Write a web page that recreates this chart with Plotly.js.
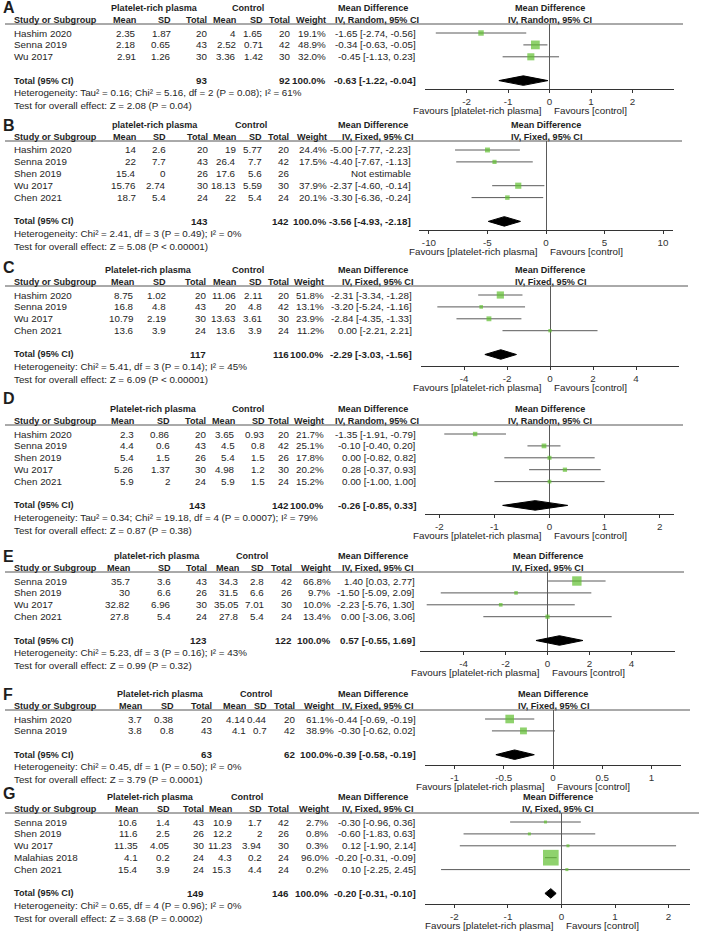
<!DOCTYPE html>
<html>
<head>
<meta charset="utf-8">
<script src="https://cdn.plot.ly/plotly-3.0.1.min.js"></script>
<style>html,body{margin:0;padding:0;background:#fff}</style>
</head>
<body>
<div id="chart" style="width:701px;height:939px"></div>
<script>
// ---- A ----
const studiesA = ["Hashim 2020", "Senna 2019", "Wu 2017"];
const prpMeanA = [2.35, 2.18, 2.91];
const prpSdA = [1.87, 0.65, 1.26];
const prpNA = [20, 43, 30];
const ctlMeanA = [4, 2.52, 3.36];
const ctlSdA = [1.65, 0.71, 1.42];
const ctlNA = [20, 42, 30];
const weightA = [19.1, 48.9, 32.0];
const mdA = [-1.65, -0.34, -0.45];
const loA = [-2.74, -0.63, -1.13];
const hiA = [-0.56, -0.05, 0.23];
const totalNA = [93, 92];
const totalCiA = [-0.63, -1.22, -0.04];
const ticksA = [-2, -1, 0, 1, 2];

// ---- B ----
const studiesB = ["Hashim 2020", "Senna 2019", "Shen 2019", "Wu 2017", "Chen 2021"];
const prpMeanB = [14, 22, 15.4, 15.76, 18.7];
const prpSdB = [2.6, 7.7, 0, 2.74, 5.4];
const prpNB = [20, 43, 26, 30, 24];
const ctlMeanB = [19, 26.4, 17.6, 18.13, 22];
const ctlSdB = [5.77, 7.7, 5.6, 5.59, 5.4];
const ctlNB = [20, 42, 26, 30, 24];
const weightB = [24.4, 17.5, null, 37.9, 20.1];
const mdB = [-5.00, -4.40, null, -2.37, -3.30];
const loB = [-7.77, -7.67, null, -4.60, -6.36];
const hiB = [-2.23, -1.13, null, -0.14, -0.24];
const totalNB = [143, 142];
const totalCiB = [-3.56, -4.93, -2.18];
const ticksB = [-10, -5, 0, 5, 10];

// ---- C ----
const studiesC = ["Hashim 2020", "Senna 2019", "Wu 2017", "Chen 2021"];
const prpMeanC = [8.75, 16.8, 10.79, 13.6];
const prpSdC = [1.02, 4.8, 2.19, 3.9];
const prpNC = [20, 43, 30, 24];
const ctlMeanC = [11.06, 20, 13.63, 13.6];
const ctlSdC = [2.11, 4.8, 3.61, 3.9];
const ctlNC = [20, 42, 30, 24];
const weightC = [51.8, 13.1, 23.9, 11.2];
const mdC = [-2.31, -3.20, -2.84, 0.00];
const loC = [-3.34, -5.24, -4.35, -2.21];
const hiC = [-1.28, -1.16, -1.33, 2.21];
const totalNC = [117, 116];
const totalCiC = [-2.29, -3.03, -1.56];
const ticksC = [-4, -2, 0, 2, 4];

// ---- D ----
const studiesD = ["Hashim 2020", "Senna 2019", "Shen 2019", "Wu 2017", "Chen 2021"];
const prpMeanD = [2.3, 4.4, 5.4, 5.26, 5.9];
const prpSdD = [0.86, 0.6, 1.5, 1.37, 2];
const prpND = [20, 43, 26, 30, 24];
const ctlMeanD = [3.65, 4.5, 5.4, 4.98, 5.9];
const ctlSdD = [0.93, 0.8, 1.5, 1.2, 1.5];
const ctlND = [20, 42, 26, 30, 24];
const weightD = [21.7, 25.1, 17.8, 20.2, 15.2];
const mdD = [-1.35, -0.10, 0.00, 0.28, 0.00];
const loD = [-1.91, -0.40, -0.82, -0.37, -1.00];
const hiD = [-0.79, 0.20, 0.82, 0.93, 1.00];
const totalND = [143, 142];
const totalCiD = [-0.26, -0.85, 0.33];
const ticksD = [-2, -1, 0, 1, 2];

// ---- E ----
const studiesE = ["Senna 2019", "Shen 2019", "Wu 2017", "Chen 2021"];
const prpMeanE = [35.7, 30, 32.82, 27.8];
const prpSdE = [3.6, 6.6, 6.96, 5.4];
const prpNE = [43, 26, 30, 24];
const ctlMeanE = [34.3, 31.5, 35.05, 27.8];
const ctlSdE = [2.8, 6.6, 7.01, 5.4];
const ctlNE = [42, 26, 30, 24];
const weightE = [66.8, 9.7, 10.0, 13.4];
const mdE = [1.40, -1.50, -2.23, 0.00];
const loE = [0.03, -5.09, -5.76, -3.06];
const hiE = [2.77, 2.09, 1.30, 3.06];
const totalNE = [123, 122];
const totalCiE = [0.57, -0.55, 1.69];
const ticksE = [-4, -2, 0, 2, 4];

// ---- F ----
const studiesF = ["Hashim 2020", "Senna 2019"];
const prpMeanF = [3.7, 3.8];
const prpSdF = [0.38, 0.8];
const prpNF = [20, 43];
const ctlMeanF = [4.14, 4.1];
const ctlSdF = [0.44, 0.7];
const ctlNF = [20, 42];
const weightF = [61.1, 38.9];
const mdF = [-0.44, -0.30];
const loF = [-0.69, -0.62];
const hiF = [-0.19, 0.02];
const totalNF = [63, 62];
const totalCiF = [-0.39, -0.58, -0.19];
const ticksF = [-1, -0.5, 0, 0.5, 1];

// ---- G ----
const studiesG = ["Senna 2019", "Shen 2019", "Wu 2017", "Malahias 2018", "Chen 2021"];
const prpMeanG = [10.6, 11.6, 11.35, 4.1, 15.4];
const prpSdG = [1.4, 2.5, 4.05, 0.2, 3.9];
const prpNG = [43, 26, 30, 24, 24];
const ctlMeanG = [10.9, 12.2, 11.23, 4.3, 15.3];
const ctlSdG = [1.7, 2, 3.94, 0.2, 4.4];
const ctlNG = [42, 26, 30, 24, 24];
const weightG = [2.7, 0.8, 0.3, 96.0, 0.2];
const mdG = [-0.30, -0.60, 0.12, -0.20, 0.10];
const loG = [-0.96, -1.83, -1.90, -0.31, -2.25];
const hiG = [0.36, 0.63, 2.14, -0.09, 2.45];
const totalNG = [149, 146];
const totalCiG = [-0.20, -0.31, -0.10];
const ticksG = [-2, -1, 0, 1, 2];

const panelLetters = ["A", "B", "C", "D", "E", "F", "G"];
const groupLabels = ["Platelet-rich plasma", "platelet-rich plasma", "Platelet-rich plasma",
  "Platelet-rich plasma", "platelet-rich plasma", "Platelet-rich plasma", "Platelet-rich plasma"];
const methods = ["IV, Random, 95% CI", "IV, Fixed, 95% CI", "IV, Fixed, 95% CI",
  "IV, Random, 95% CI", "IV, Fixed, 95% CI", "IV, Fixed, 95% CI", "IV, Fixed, 95% CI"];
const hetTexts = [
  "Heterogeneity: Tau² = 0.16; Chi² = 5.16, df = 2 (P = 0.08); I² = 61%",
  "Heterogeneity: Chi² = 2.41, df = 3 (P = 0.49); I² = 0%",
  "Heterogeneity: Chi² = 5.41, df = 3 (P = 0.14); I² = 45%",
  "Heterogeneity: Tau² = 0.34; Chi² = 19.18, df = 4 (P = 0.0007); I² = 79%",
  "Heterogeneity: Chi² = 5.23, df = 3 (P = 0.16); I² = 43%",
  "Heterogeneity: Chi² = 0.45, df = 1 (P = 0.50); I² = 0%",
  "Heterogeneity: Chi² = 0.65, df = 4 (P = 0.96); I² = 0%",
];
const testTexts = [
  "Test for overall effect: Z = 2.08 (P = 0.04)",
  "Test for overall effect: Z = 5.08 (P < 0.00001)",
  "Test for overall effect: Z = 6.09 (P < 0.00001)",
  "Test for overall effect: Z = 0.87 (P = 0.38)",
  "Test for overall effect: Z = 0.99 (P = 0.32)",
  "Test for overall effect: Z = 3.79 (P = 0.0001)",
  "Test for overall effect: Z = 3.68 (P = 0.0002)",
];

const panels = [
  [studiesA, prpMeanA, prpSdA, prpNA, ctlMeanA, ctlSdA, ctlNA, weightA, mdA, loA, hiA, totalNA, totalCiA, ticksA],
  [studiesB, prpMeanB, prpSdB, prpNB, ctlMeanB, ctlSdB, ctlNB, weightB, mdB, loB, hiB, totalNB, totalCiB, ticksB],
  [studiesC, prpMeanC, prpSdC, prpNC, ctlMeanC, ctlSdC, ctlNC, weightC, mdC, loC, hiC, totalNC, totalCiC, ticksC],
  [studiesD, prpMeanD, prpSdD, prpND, ctlMeanD, ctlSdD, ctlND, weightD, mdD, loD, hiD, totalND, totalCiD, ticksD],
  [studiesE, prpMeanE, prpSdE, prpNE, ctlMeanE, ctlSdE, ctlNE, weightE, mdE, loE, hiE, totalNE, totalCiE, ticksE],
  [studiesF, prpMeanF, prpSdF, prpNF, ctlMeanF, ctlSdF, ctlNF, weightF, mdF, loF, hiF, totalNF, totalCiF, ticksF],
  [studiesG, prpMeanG, prpSdG, prpNG, ctlMeanG, ctlSdG, ctlNG, weightG, mdG, loG, hiG, totalNG, totalCiG, ticksG],
].map(([studies, prpMean, prpSd, prpN, ctlMean, ctlSd, ctlN, weight, md, lo, hi, totalN, totalCi, ticks]) =>
  ({ studies, prpMean, prpSd, prpN, ctlMean, ctlSd, ctlN, weight, md, lo, hi, totalN, totalCi, ticks }));

// page geometry (px) for each panel
const geom = [
  { letterY: 7, y0: 8, axisY: 89, x: [425, 674], range: [-3, 3], box: 1.25,
    cols: [137, 172, 208, 237, 264, 291, 327], groupX: 154, ctlX: 248, ciX: 417 },
  { letterY: 125, y0: 125, axisY: 230, x: [419, 673], range: [-10.85, 10.85], box: 1.0,
    cols: [137, 167, 209, 237, 263, 290, 328], groupX: 155, ctlX: 251, ciX: 412 },
  { letterY: 267, y0: 270, axisY: 366, x: [421, 679], range: [-6, 6], box: 1.0,
    cols: [135, 167, 207, 237, 263, 290, 325], groupX: 148, ctlX: 248, ciX: 413 },
  { letterY: 398, y0: 409, axisY: 514, x: [425, 674], range: [-2.26, 2.26], box: 0.95,
    cols: [135, 171, 207, 236, 266, 290, 325], groupX: 153, ctlX: 248, ciX: 417 },
  { letterY: 556, y0: 556, axisY: 651, x: [420, 675], range: [-6.08, 6.08], box: 1.15,
    cols: [131, 172, 208, 240, 265, 293, 332], groupX: 157, ctlX: 252, ciX: 416 },
  { letterY: 694, y0: 694, axisY: 765, x: [425, 681], range: [-1.3, 1.3], box: 1.1,
    cols: [143, 175, 213, 247, 268, 296, 335], groupX: 160, ctlX: 256, ciX: 417 },
  { letterY: 793, y0: 797, axisY: 904, x: [425, 690], range: [-2.55, 2.4], box: 1.6,
    cols: [139, 171, 205, 233, 263, 290, 330], groupX: 150, ctlX: 247, ciX: 417 },
];

const W = 701, H = 939, STEP = 11.9;
const FONT = "Liberation Sans, Arial, sans-serif";
const TXT = "#1e1e1e";
const GREEN = "#5fbf2f";
const GREY = "#5a5a5a";
const FS = 9.8;
const FS_HEAD = 9.1;

const fmt2 = (v) => v.toFixed(2);
const ciText = (m, l, h) => `${fmt2(m)} [${fmt2(l)}, ${fmt2(h)}]`;

const traces = [];
const annotations = [];
const shapes = [];
const layout = {
  width: W,
  height: H,
  margin: { l: 0, r: 0, t: 0, b: 0 },
  paper_bgcolor: "#fff",
  plot_bgcolor: "rgba(0,0,0,0)",
  showlegend: false,
  font: { family: FONT, size: FS, color: TXT },
};

function note(text, x, y, anchor, size, bold) {
  annotations.push({
    text: bold ? `<b>${text}</b>` : text,
    x: x / W,
    y: 1 - y / H,
    xref: "paper",
    yref: "paper",
    xanchor: anchor,
    yanchor: "middle",
    borderpad: 0,
    showarrow: false,
    font: { family: FONT, size: size || FS, color: TXT },
  });
}

panels.forEach((p, k) => {
  const g = geom[k];
  const ax = k === 0 ? "" : String(k + 1);
  const head = g.y0 + 12;
  const line = g.y0 + 16;
  const first = g.y0 + 25;
  const n = p.studies.length;
  const totalRow = n + 1;
  const totalY = first + totalRow * STEP;
  const zeroX = g.x[0] + (0 - g.range[0]) / (g.range[1] - g.range[0]) * (g.x[1] - g.x[0]);
  const midX = (g.x[0] + g.x[1]) / 2;

  layout["xaxis" + ax] = {
    domain: [g.x[0] / W, g.x[1] / W],
    range: g.range,
    anchor: "y" + ax,
    showgrid: false,
    zeroline: true,
    zerolinecolor: GREY,
    zerolinewidth: 1,
    showline: true,
    linecolor: "#333",
    linewidth: 1,
    ticks: "outside",
    ticklen: 3,
    tickcolor: "#333",
    tickvals: p.ticks,
    ticktext: p.ticks.map(String),
    tickfont: { family: FONT, size: FS, color: "#333" },
    fixedrange: true,
  };
  layout["yaxis" + ax] = {
    domain: [1 - g.axisY / H, 1 - line / H],
    range: [(g.axisY - first) / STEP, (line - first) / STEP],
    anchor: "x" + ax,
    visible: false,
    fixedrange: true,
  };

  // study squares with CI whiskers
  traces.push({
    type: "scatter",
    mode: "markers",
    xaxis: "x" + ax,
    yaxis: "y" + ax,
    x: p.md,
    y: p.studies.map((_, i) => i),
    marker: {
      symbol: "square",
      color: GREEN,
      size: p.weight.map((w) => (w == null ? 0 : Math.max(3, g.box * Math.sqrt(w)))),
      line: { width: 0 },
    },
    error_x: {
      type: "data",
      symmetric: false,
      array: p.hi.map((h, i) => (h == null ? null : h - p.md[i])),
      arrayminus: p.lo.map((l, i) => (l == null ? null : p.md[i] - l)),
      width: 0,
      thickness: 1,
      color: GREY,
    },
    hoverinfo: "skip",
  });

  // pooled diamond
  const [tm, tl, th] = p.totalCi;
  traces.push({
    type: "scatter",
    mode: "lines",
    xaxis: "x" + ax,
    yaxis: "y" + ax,
    x: [tl, tm, th, tm, tl],
    y: [totalRow, totalRow - 0.4, totalRow, totalRow + 0.4, totalRow],
    fill: "toself",
    fillcolor: "#000",
    line: { color: "#000", width: 1 },
    hoverinfo: "skip",
  });

  // header rule
  shapes.push({
    type: "line", xref: "paper", yref: "paper",
    x0: 5 / W, x1: (g.x[1] + 9) / W, y0: 1 - line / H, y1: 1 - line / H,
    line: { color: "#555", width: 1 },
  });

  // headers
  note(panelLetters[k], 2, g.letterY, "left", 16, true);
  note(groupLabels[k], g.groupX, g.y0, "center", FS_HEAD, true);
  note("Control", g.ctlX, g.y0, "center", FS_HEAD, true);
  note("Mean Difference", 373, g.y0, "center", FS_HEAD, true);
  note("Mean Difference", midX, g.y0, "center", FS_HEAD, true);
  note("Study or Subgroup", 13, head, "left", FS_HEAD, true);
  ["Mean", "SD", "Total", "Mean", "SD", "Total", "Weight"].forEach((h, c) =>
    note(h, g.cols[c], head, "right", FS_HEAD, true));
  note(methods[k], 377, head, "center", FS_HEAD, true);
  note(methods[k], midX, head, "center", FS_HEAD, true);

  // study rows
  p.studies.forEach((s, i) => {
    const y = first + i * STEP;
    note(s, 13, y, "left");
    [p.prpMean[i], p.prpSd[i], p.prpN[i], p.ctlMean[i], p.ctlSd[i], p.ctlN[i]].forEach((v, c) =>
      note(String(v), g.cols[c], y, "right"));
    if (p.md[i] == null) {
      note("Not estimable", g.ciX, y, "right");
    } else {
      note(p.weight[i].toFixed(1) + "%", g.cols[6], y, "right");
      note(ciText(p.md[i], p.lo[i], p.hi[i]), g.ciX, y, "right");
    }
  });

  // total and footer
  note("Total (95% CI)", 13, totalY, "left", FS_HEAD, true);
  note(String(p.totalN[0]), g.cols[2], totalY, "right", FS, true);
  note(String(p.totalN[1]), g.cols[5], totalY, "right", FS, true);
  note("100.0%", g.cols[6], totalY, "right", FS, true);
  note(ciText(tm, tl, th), g.ciX, totalY, "right", FS, true);
  note(hetTexts[k], 13, totalY + 12.2, "left");
  note(testTexts[k], 13, totalY + 24.6, "left");

  note("Favours [platelet-rich plasma]", zeroX - 7, g.axisY + 21, "right");
  note("Favours [control]", zeroX + 3, g.axisY + 21, "left");
});

layout.annotations = annotations;
layout.shapes = shapes;

Plotly.newPlot("chart", traces, layout, { displayModeBar: false, staticPlot: true });
</script>
</body>
</html>
